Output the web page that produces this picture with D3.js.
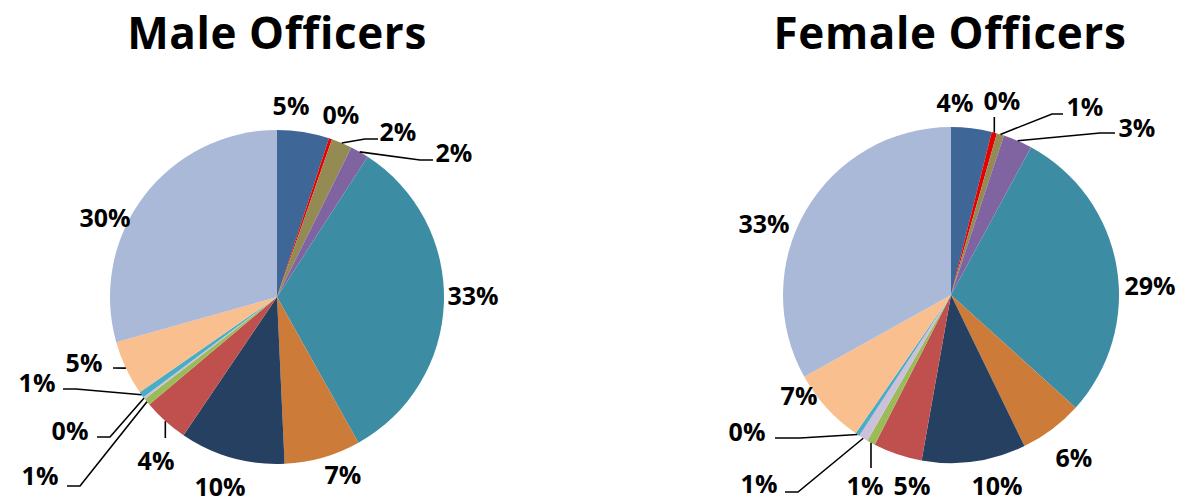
<!DOCTYPE html>
<html>
<head>
<meta charset="utf-8">
<script src="https://cdn.jsdelivr.net/npm/d3@7"></script>
<style>
  html, body { margin: 0; padding: 0; background: #fff; }
  svg { display: block; }
  text { font-family: "Open Sans", "Liberation Sans", sans-serif; font-weight: 700; fill: #000; }
</style>
</head>
<body>
<svg id="chart" width="1181" height="502"></svg>
<script>
// ---- data ----
const categories = ["Group 1","Group 2","Group 3","Group 4","Group 5","Group 6","Group 7",
                    "Group 8","Group 9","Group 10","Group 11","Group 12","Group 13"];
const maleValues   = [5.05, 0.3, 2.0, 1.8, 32.8, 7.4, 10.2, 4.4, 0.7, 0.2, 0.6, 5.3, 29.4];
const femaleValues = [3.9, 0.5, 0.7, 2.8, 28.8, 6.1, 10.0, 4.7, 0.8, 0.9, 0.4, 7.3, 33.1];
const maleLabels   = ["5%","0%","2%","2%","33%","7%","10%","4%","1%","0%","1%","5%","30%"];
const femaleLabels = ["4%","0%","1%","3%","29%","6%","10%","5%","1%","1%","0%","7%","33%"];
const titles = ["Male Officers", "Female Officers"];

// ---- styles / layout ----
const colors = ["#3e6797","#e60000","#948a54","#8064a2","#3c8ca3","#cc7b38","#264062",
                "#c0504d","#9bbb59","#ccc0da","#4bacc6","#f9bf8f","#a9b9d7"];

const layouts = [
  { cx: 277, cy: 297, r: 167, titleX: 277,
    labelPos: [[14,-192],[64,-183],[121,-166],[177,-145],[196,-2],[66,177],[-57,189],
               [-121,163],[-237,178],[-207,133],[-240,85],[-193,65],[-172,-80]],
    vertical: [7],
    leaders: { 2: [[88,-158],[101,-158]], 3: [[143,-137],[156,-137]], 7: [[-111,141],[-111,141]],
               8: [[-197,189],[-210,189]], 9: [[-167,140],[-180,140]], 10: [[-201,92],[-214,92]],
               11: [[-164,71],[-164,71]] } },
  { cx: 951, cy: 295, r: 168, titleX: 950,
    labelPos: [[4,-193],[51,-195],[134,-189],[186,-168],[199,-10],[123,162],[46,190],
               [-39,190],[-86,190],[-192,188],[-204,136],[-152,100],[-187,-72]],
    vertical: [1, 8],
    leaders: { 1: [[44,-178],[44,-178]], 2: [[101,-181],[112,-181]], 3: [[149,-162],[164,-162]],
               8: [[-80,173],[-80,173]], 9: [[-153,197],[-166,197]], 10: [[-151,143],[-176,143]] } }
];

const svg = d3.select("#chart");
const pie = d3.pie().sort(null).value(d => d);

[[maleValues, maleLabels], [femaleValues, femaleLabels]].forEach(([vals, labs], k) => {
  const L = layouts[k];
  const g = svg.append("g").attr("transform", `translate(${L.cx},${L.cy})`);
  const arc = d3.arc().innerRadius(0).outerRadius(L.r);
  const arcs = pie(vals);

  g.selectAll("path.slice").data(arcs).join("path")
    .attr("class", "slice")
    .attr("d", arc)
    .attr("fill", (d, i) => colors[i]);

  // leader lines
  arcs.forEach((d, i) => {
    const ld = L.leaders[i];
    if (!ld) return;
    const mid = (d.startAngle + d.endAngle) / 2;
    const sx = L.r * Math.sin(mid), sy = -L.r * Math.cos(mid);
    const pts = L.vertical.includes(i) ? [[sx, sy], [sx, ld[1][1]]] : [[sx, sy], ld[0], ld[1]];
    g.append("path")
      .attr("d", d3.line()(pts))
      .attr("fill", "none")
      .attr("stroke", "#000")
      .attr("stroke-width", 1.6);
  });

  g.selectAll("text.lbl").data(arcs).join("text")
    .attr("class", "lbl")
    .attr("x", (d, i) => L.labelPos[i][0])
    .attr("y", (d, i) => L.labelPos[i][1])
    .attr("text-anchor", "middle")
    .attr("dominant-baseline", "central")
    .attr("font-size", 25)
    .text((d, i) => labs[i]);

  svg.append("text")
    .attr("x", L.titleX)
    .attr("y", 49)
    .attr("text-anchor", "middle")
    .attr("font-size", 44)
    .attr("letter-spacing", 0.6)
    .text(titles[k]);
});
</script>
</body>
</html>
